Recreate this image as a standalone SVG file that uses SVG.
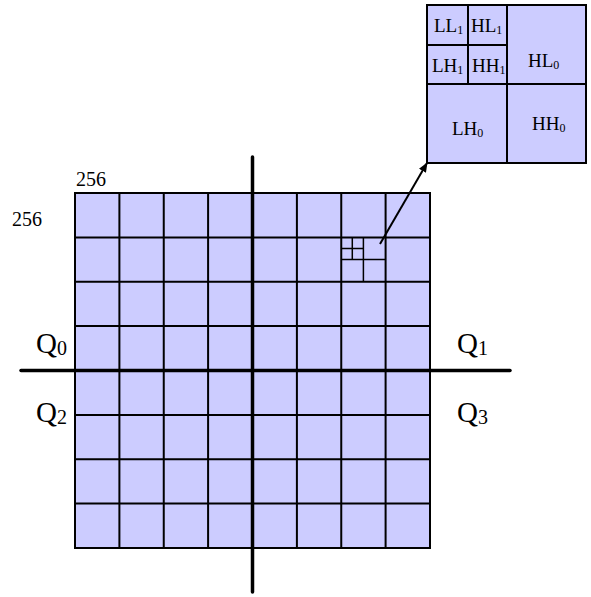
<svg xmlns="http://www.w3.org/2000/svg" width="591" height="597" viewBox="0 0 591 597">
<style>
.cell{fill:#ccccff;stroke:none}
.grid{stroke:#000;stroke-width:2;fill:none}
.thin{stroke:#000;stroke-width:1.5;fill:none}
.axis{stroke:#000;stroke-width:3.5;stroke-linecap:round}
.t{font-family:"Liberation Serif","Times New Roman",serif;fill:#000}
</style>
<defs>
<marker id="ah" markerWidth="10" markerHeight="8" refX="9" refY="4" orient="auto" markerUnits="userSpaceOnUse">
<path d="M0,0 L10,4 L0,8 Z" fill="#000"/>
</marker>
</defs>
<g id="grid">
<rect class="cell" x="75" y="193" width="355" height="355"/>
<path class="grid" d="M75,193H430V548H75Z M119.4,193V548 M163.75,193V548 M208.1,193V548 M296.9,193V548 M341.25,193V548 M385.6,193V548 M75,237.4H430 M75,281.75H430 M75,326.1H430 M75,414.9H430 M75,459.25H430 M75,503.6H430"/>
<path class="thin" d="M363.4,237.4V281.75 M341.25,259.6H385.6 M352.3,237.4V259.6 M341.25,248.5H363.4"/>
</g>
<g id="inset">
<rect class="cell" x="427" y="5" width="159" height="158"/>
<path class="grid" d="M427,5H586V163H427Z M507,5V163 M427,84H586 M468,5V84 M427,45H507"/>
<text class="t" x="434" y="32" font-size="19">LL<tspan font-size="12" dy="2">1</tspan></text>
<text class="t" x="471" y="32" font-size="19">HL<tspan font-size="12" dy="2">1</tspan></text>
<text class="t" x="432" y="72" font-size="19">LH<tspan font-size="12" dy="2">1</tspan></text>
<text class="t" x="472" y="72" font-size="19">HH<tspan font-size="12" dy="2">1</tspan></text>
<text class="t" x="528" y="67" font-size="19">HL<tspan font-size="12" dy="2">0</tspan></text>
<text class="t" x="452" y="135" font-size="19">LH<tspan font-size="12" dy="2">0</tspan></text>
<text class="t" x="532" y="130" font-size="19">HH<tspan font-size="12" dy="2">0</tspan></text>
</g>
<g id="connectors">
<line class="axis" x1="252.5" y1="157" x2="252.5" y2="592"/>
<line class="axis" x1="21" y1="370.5" x2="510" y2="370.5"/>
<line x1="380" y1="244" x2="427" y2="163" stroke="#000" stroke-width="2" marker-end="url(#ah)"/>
</g>
<g id="labels">
<text class="t" x="76" y="185.5" font-size="20">256</text>
<text class="t" x="12" y="226" font-size="20">256</text>
<text class="t" x="36" y="353" font-size="29">Q<tspan font-size="20" dy="2">0</tspan></text>
<text class="t" x="457" y="353" font-size="29">Q<tspan font-size="20" dy="2">1</tspan></text>
<text class="t" x="36" y="422" font-size="29">Q<tspan font-size="20" dy="2">2</tspan></text>
<text class="t" x="457" y="422" font-size="29">Q<tspan font-size="20" dy="2">3</tspan></text>
</g>
</svg>
